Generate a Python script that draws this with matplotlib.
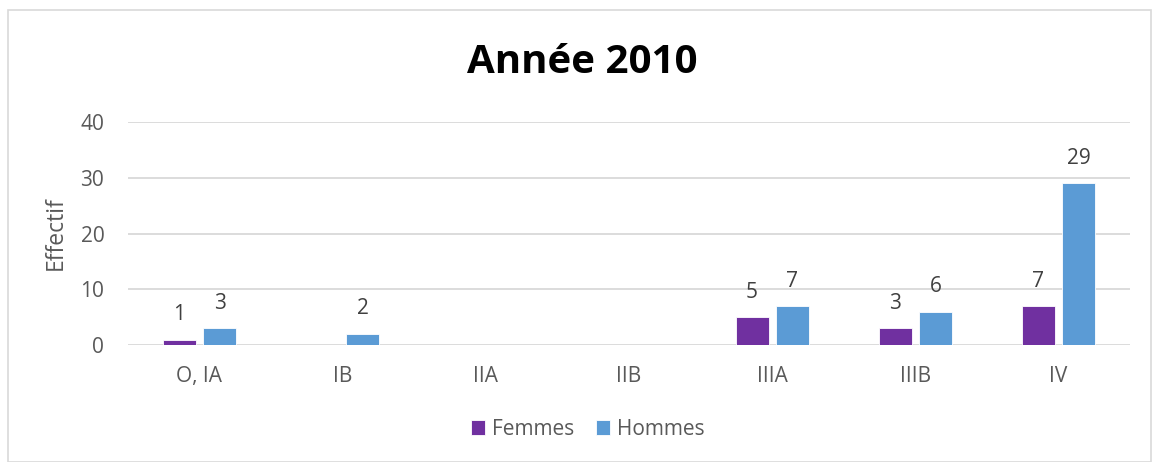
import matplotlib.pyplot as plt
import numpy as np
from matplotlib.patches import Rectangle

categories = ["O, IA", "IB", "IIA", "IIB", "IIIA", "IIIB", "IV"]
femmes = [1, None, None, None, 5, 3, 7]
hommes = [3, 2, None, None, 7, 6, 29]
series_names = ["Femmes", "Hommes"]
colors = ["#7030A0", "#5B9BD5"]

plt.rcParams['font.family'] = ['Open Sans', 'DejaVu Sans']

fig = plt.figure(figsize=(11.52, 4.62), dpi=100)
fig.patches.append(Rectangle((8 / 1152, 0), 1 - 9 / 1152, 1 - 10 / 462, transform=fig.transFigure,
                             fill=False, edgecolor="#D9D9D9", linewidth=1.2))
ax = fig.add_axes([0.111, 0.253, 0.870, 0.483])

x = np.arange(len(categories))
w = 0.23
off = 0.14
for vals, name, c, d in zip([femmes, hommes], series_names, colors, [-off, off]):
    v = np.array([np.nan if a is None else a for a in vals], dtype=float)
    ax.bar(x + d, np.nan_to_num(v), w, color=c, label=name, zorder=3,
           edgecolor="white", linewidth=0.6)
    for xi, vi in zip(x + d, v):
        if not np.isnan(vi):
            ax.annotate(f"{int(vi)}", (xi, vi), xytext=(0, 18), textcoords="offset points",
                        ha="center", va="center", fontsize=15, color="#404040")

ax.set_xlim(-0.5, len(categories) - 0.5)
ax.set_ylim(0, 40)
ax.set_yticks([0, 10, 20, 30, 40])
ax.set_xticks(x)
ax.set_xticklabels(categories)
ax.tick_params(axis="both", length=0, labelsize=15, colors="#595959")
ax.tick_params(axis="x", pad=15)
ax.tick_params(axis="y", pad=17)
ax.yaxis.grid(True, color="#D9D9D9", linewidth=1.3, zorder=0)
for s in ax.spines.values():
    s.set_visible(False)
ax.set_ylabel("Effectif", fontsize=16.5, color="#595959", labelpad=9)

fig.text(0.505, 0.865, "Année 2010", ha="center", va="center", fontsize=29,
         fontweight="bold", color="black")

fig.legend(loc="center", bbox_to_anchor=(0.51, 0.071), ncol=2, frameon=False,
           fontsize=15, handlelength=0.7, handleheight=0.7, columnspacing=1.05,
           handletextpad=0.3, labelcolor="#595959")

fig.savefig("out.png", dpi=100)
